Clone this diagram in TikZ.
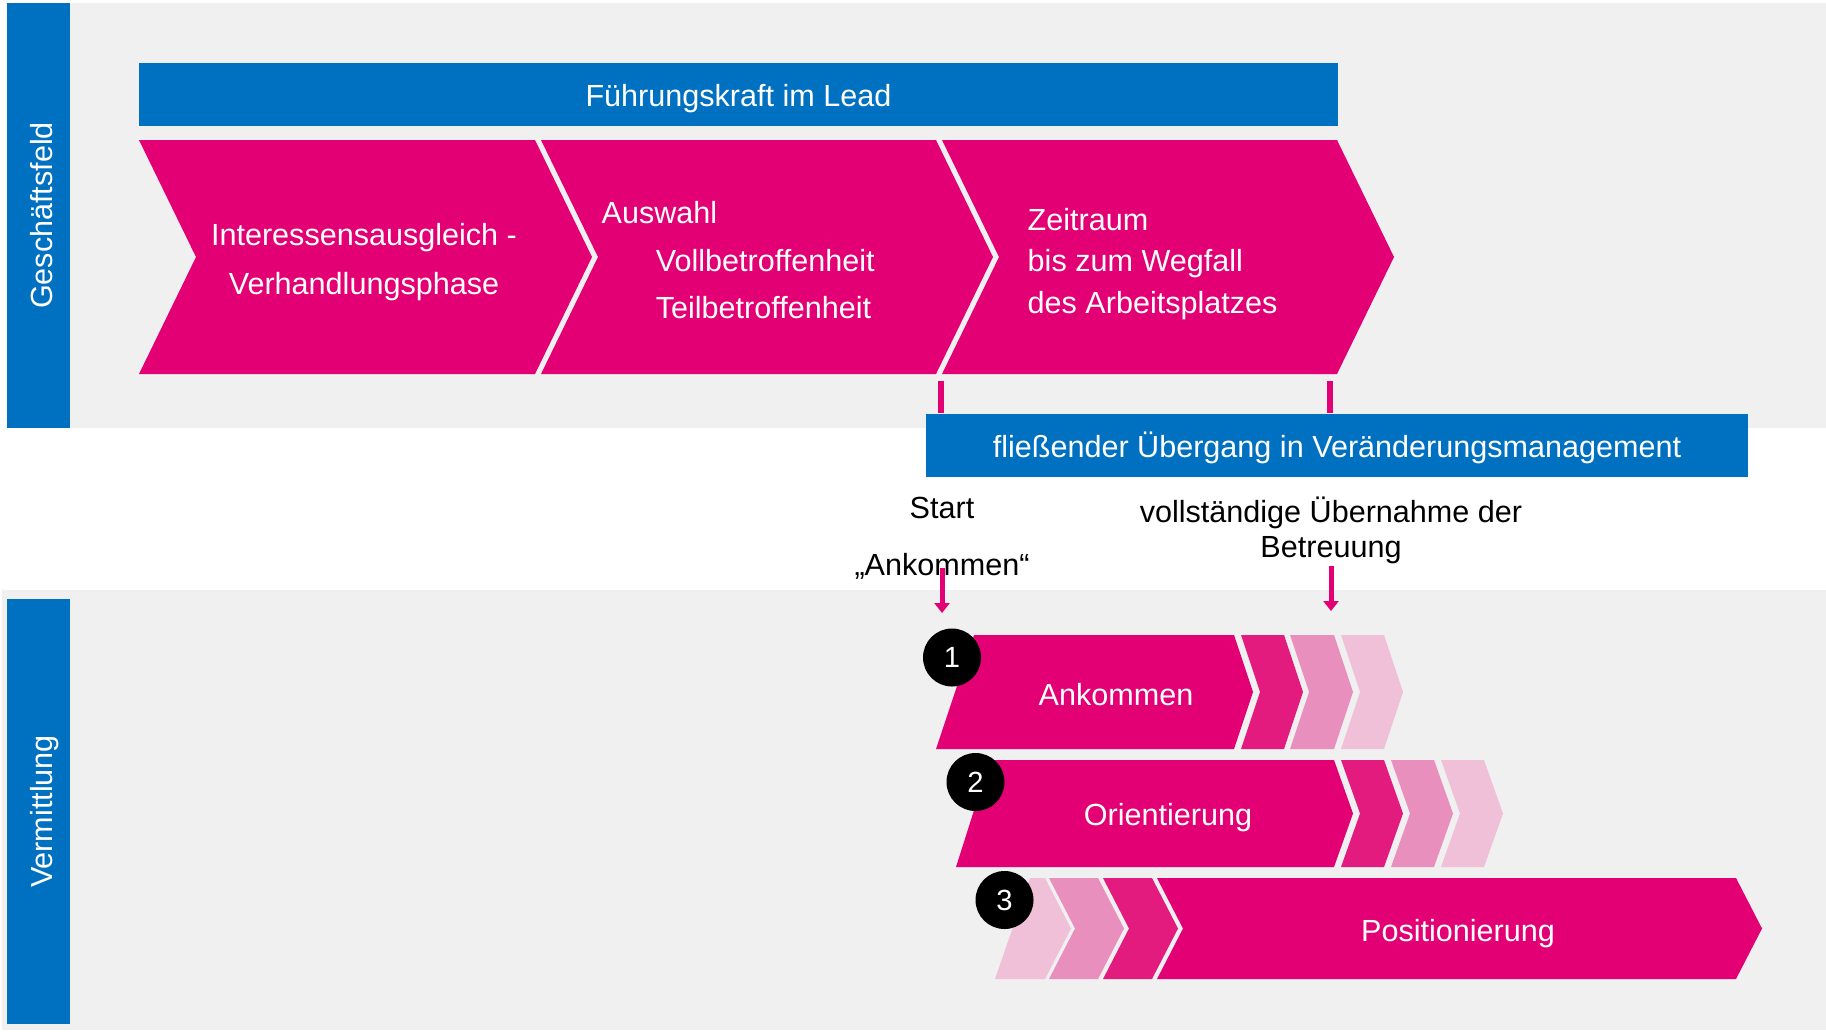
\documentclass[tikz,border=0pt]{standalone}
\usepackage{fontspec}
\setmainfont{Liberation Sans}
\usetikzlibrary{arrows.meta}

\definecolor{tmagenta}{HTML}{E20074}
\definecolor{tblau}{HTML}{0070C0}
\definecolor{tgrau}{HTML}{F0F0F0}
\definecolor{pinkA}{HTML}{E31B7F}
\definecolor{pinkB}{HTML}{E98FBD}
\definecolor{pinkC}{HTML}{EFC0D8}

\begin{document}
\begin{tikzpicture}[x=0.1mm, y=-0.1mm,
        balken/.style = {fill=tblau, text=white, inner sep=0pt, text height=6.8pt, text depth=0pt,
            font=\fontsize{8.7pt}{10pt}\selectfont},
        seite/.style = {balken, rotate=90, minimum width=42.5mm, minimum height=6.3mm, text height=8.2pt},
        weiss/.style = {text=white, inner sep=0pt, font=\fontsize{8.7pt}{10pt}\selectfont},
        schwarz/.style = {text=black, inner sep=0pt, align=center, anchor=north},
        nummer/.style = {circle, fill=black, text=white, minimum size=5.8mm, inner sep=0pt,
            font=\fontsize{8.3pt}{9pt}\selectfont},
        strich/.style = {draw=tmagenta, line width=0.6mm},
        pfeil/.style = {draw=tmagenta, line width=0.5mm, -{Triangle[length=1mm, width=1.5mm]}}]

        \useasboundingbox ( 0, 0 ) rectangle ( 1826, 1032 );

        % Hintergrund
        \fill [tgrau] ( 7, 3 ) rectangle ( 1826, 428 );
        \fill [tgrau] ( 2, 590 ) rectangle ( 1826, 1030 );

        % Seitenleisten
        \node [seite] (gf) at ( 38.5, 215.5 ) {Geschäftsfeld};
        \node [seite] (verm) at ( 38.5, 811.5 ) {Vermittlung};

        % Kopfbalken
        \node [balken, minimum width=119.9mm, minimum height=6.3mm] (lead) at ( 738.5, 94.5 ) {Führungskraft im Lead};

        % Hoehen der oberen Pfeile
        \def \Ot { 140 };
        \def \Om { 257 };
        \def \Ou { 374 };

        % obere Pfeile
        \fill [tmagenta] ( 139, \Ot ) -- ( 535, \Ot ) -- ( 592, \Om ) -- ( 535, \Ou ) -- ( 139, \Ou ) -- ( 196, \Om ) -- cycle;
        \fill [tmagenta] ( 541, \Ot ) -- ( 936, \Ot ) -- ( 993, \Om ) -- ( 936, \Ou ) -- ( 541, \Ou ) -- ( 598, \Om ) -- cycle;
        \fill [tmagenta] ( 942, \Ot ) -- ( 1337, \Ot ) -- ( 1394, \Om ) -- ( 1337, \Ou ) -- ( 942, \Ou ) -- ( 999, \Om ) -- cycle;

        % Texte der oberen Pfeile
        \node [weiss, align=center, anchor=north, font=\fontsize{8.7pt}{13.7pt}\selectfont] (verhandlung) at ( 364, 223 )
            {Interessensausgleich -\\Verhandlungsphase};
        \node [weiss, align=left, anchor=north west, font=\fontsize{8.7pt}{13.5pt}\selectfont] (auswahl) at ( 601, 201 )
            {Auswahl\\\hspace*{15.4pt}Vollbetroffenheit\\\hspace*{15.4pt}Teilbetroffenheit};
        \node [weiss, align=left, anchor=north west, font=\fontsize{8.7pt}{11.7pt}\selectfont] (zeitraum) at ( 1027, 208 )
            {Zeitraum\\bis zum Wegfall\\des Arbeitsplatzes};

        % Uebergang
        \node [balken, minimum width=82.2mm, minimum height=6.3mm] (uebergang) at ( 1337, 445.5 )
            {fließender Übergang in Veränderungsmanagement};
        \coordinate (tickA) at ( 941, 381 );
        \coordinate (tickB) at ( 1329.5, 381 );
        \draw [strich] (tickA) -- (tickA |- uebergang.north);
        \draw [strich] (tickB) -- (tickB |- uebergang.north);

        % Beschriftungen
        \node [schwarz, font=\fontsize{8.7pt}{16.2pt}\selectfont] (start) at ( 942, 496 ) {Start\\„Ankommen“};
        \node [schwarz, font=\fontsize{8.7pt}{10pt}\selectfont] (uebernahme) at ( 1331, 496 )
            {vollständige Übernahme der\\Betreuung};

        % Pfeile
        \coordinate (pfeilA) at ( 942, 568 );
        \coordinate (pfeilAende) at ( 942, 613 );
        \coordinate (pfeilB) at ( 1331, 566 );
        \coordinate (pfeilBende) at ( 1331, 611 );
        \draw [pfeil] (pfeilA) -- (pfeilAende);
        \draw [pfeil] (pfeilB) -- (pfeilBende);

        % Zeile 1
        \fill [tmagenta] ( 974, 635 ) -- ( 1234, 635 ) -- ( 1253, 692 ) -- ( 1234, 749 ) -- ( 936, 749 ) -- cycle;
        \fill [pinkA] ( 1241, 635 ) -- ( 1284, 635 ) -- ( 1303, 692 ) -- ( 1284, 749 ) -- ( 1241, 749 ) -- ( 1260, 692 ) -- cycle;
        \fill [pinkB] ( 1290, 635 ) -- ( 1334, 635 ) -- ( 1353, 692 ) -- ( 1334, 749 ) -- ( 1290, 749 ) -- ( 1309, 692 ) -- cycle;
        \fill [pinkC] ( 1341, 635 ) -- ( 1384, 635 ) -- ( 1403, 692 ) -- ( 1384, 749 ) -- ( 1341, 749 ) -- ( 1360, 692 ) -- cycle;

        % Zeile 2
        \fill [tmagenta] ( 990, 760 ) -- ( 1334, 760 ) -- ( 1353, 813.5 ) -- ( 1334, 867 ) -- ( 956, 867 ) -- cycle;
        \fill [pinkA] ( 1341, 760 ) -- ( 1384, 760 ) -- ( 1403, 813.5 ) -- ( 1384, 867 ) -- ( 1341, 867 ) -- ( 1360, 813.5 ) -- cycle;
        \fill [pinkB] ( 1391, 760 ) -- ( 1434, 760 ) -- ( 1453, 813.5 ) -- ( 1434, 867 ) -- ( 1391, 867 ) -- ( 1410, 813.5 ) -- cycle;
        \fill [pinkC] ( 1441, 760 ) -- ( 1484, 760 ) -- ( 1503, 813.5 ) -- ( 1484, 867 ) -- ( 1441, 867 ) -- ( 1460, 813.5 ) -- cycle;

        % Zeile 3
        \fill [pinkC] ( 1030, 878 ) -- ( 1045, 878 ) -- ( 1071, 928.5 ) -- ( 1045, 979 ) -- ( 995, 979 ) -- cycle;
        \fill [pinkB] ( 1049, 878 ) -- ( 1098, 878 ) -- ( 1124, 928.5 ) -- ( 1098, 979 ) -- ( 1049, 979 ) -- ( 1075, 928.5 ) -- cycle;
        \fill [pinkA] ( 1103, 878 ) -- ( 1152, 878 ) -- ( 1178, 928.5 ) -- ( 1152, 979 ) -- ( 1103, 979 ) -- ( 1129, 928.5 ) -- cycle;
        \fill [tmagenta] ( 1157, 878 ) -- ( 1736, 878 ) -- ( 1762, 928.5 ) -- ( 1736, 979 ) -- ( 1157, 979 ) -- ( 1183, 928.5 ) -- cycle;

        % Texte der Zeilen
        \node [weiss, anchor=base] (ankommen) at ( 1116, 705 ) {Ankommen};
        \node [weiss, anchor=base] (orientierung) at ( 1168, 825 ) {Orientierung};
        \node [weiss, anchor=base] (positionierung) at ( 1458, 941 ) {Positionierung};

        % Nummern
        \node [nummer] (n1) at ( 952, 657.5 ) {1};
        \node [nummer] (n2) at ( 975.5, 782 ) {2};
        \node [nummer] (n3) at ( 1004.5, 900 ) {3};
    \end{tikzpicture}
\end{document}
